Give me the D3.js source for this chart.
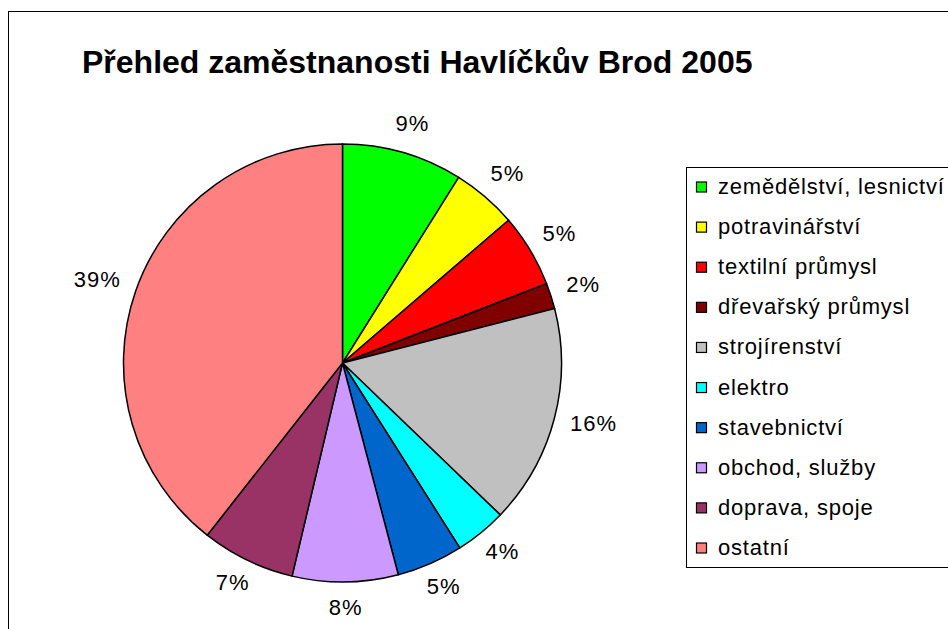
<!DOCTYPE html>
<html>
<head>
<meta charset="utf-8">
<script src="https://cdn.jsdelivr.net/npm/d3@7"></script>
<style>
  body { margin: 0; background: #fff; }
  svg { display: block; font-family: "Liberation Sans", Arial, sans-serif; }
</style>
</head>
<body>
<div class="chart"></div>
<script>
// employment shares (percent)
const categories = [
  'zemědělství, lesnictví', 'potravinářství', 'textilní průmysl', 'dřevařský průmysl',
  'strojírenství', 'elektro', 'stavebnictví', 'obchod, služby', 'doprava, spoje', 'ostatní'
];
const shares = [8.9, 4.8, 5.4, 1.9, 16.2, 3.8, 4.9, 7.8, 6.9, 39.4];
const colors = ['#00ff00', '#ffff00', '#ff0000', '#800000', '#c0c0c0',
  '#00ffff', '#0066cc', '#cc99ff', '#993366', '#ff8080'];
const title = 'Přehled zaměstnanosti Havlíčkův Brod 2005';

const width = 948;
const height = 629;
const cx = 342.5, cy = 363, radius = 219;
const labelRadius = 236;

const svg = d3.select('.chart')
  .append('svg')
  .attr('width', width)
  .attr('height', height);

// outer chart frame (runs off the right and bottom edge like the original)
svg.append('rect')
  .attr('x', 8.5).attr('y', 11.5)
  .attr('width', width + 20).attr('height', height + 20)
  .attr('fill', '#fff')
  .attr('stroke', '#000')
  .attr('stroke-width', 1);

svg.append('text')
  .attr('x', 82).attr('y', 73)
  .attr('font-size', 32)
  .attr('font-weight', 'bold')
  .text(title);

const data = categories.map((c, i) => ({ name: c, value: shares[i], color: colors[i] }));

const pie = d3.pie().sort(null).value(d => d.value).startAngle(0).endAngle(2 * Math.PI);
const arc = d3.arc().innerRadius(0).outerRadius(radius);
const arcs = pie(data);

const g = svg.append('g').attr('transform', `translate(${cx},${cy})`);

g.selectAll('path')
  .data(arcs)
  .enter()
    .append('path')
    .attr('d', arc)
    .attr('fill', d => d.data.color)
    .attr('stroke', '#000')
    .attr('stroke-width', 1.5)
    .attr('stroke-linejoin', 'round');

// percent labels outside the pie, box pushed out along mid angle
const total = d3.sum(shares);
const labels = g.selectAll('text.pct')
  .data(arcs)
  .enter()
    .append('text')
    .attr('class', 'pct')
    .attr('font-size', 22)
    .attr('letter-spacing', 1)
    .attr('text-anchor', 'middle')
    .text(d => Math.round(d.data.value / total * 100) + '%');

labels.each(function(d) {
  const a = (d.startAngle + d.endAngle) / 2;
  const w = this.getComputedTextLength();
  const h = 22;
  const x = Math.sin(a) * (labelRadius + w / 2);
  const y = -Math.cos(a) * (labelRadius + h / 2);
  d3.select(this).attr('x', x).attr('y', y + 5);
});

// legend
const legend = svg.append('g');
legend.append('rect')
  .attr('x', 686.5).attr('y', 167.5)
  .attr('width', 300).attr('height', 400)
  .attr('fill', '#fff')
  .attr('stroke', '#000')
  .attr('stroke-width', 1);

const rowY = d3.scalePoint().domain(categories).range([187, 548]);

const item = legend.selectAll('g.item')
  .data(data)
  .enter()
    .append('g')
    .attr('class', 'item')
    .attr('transform', d => `translate(0,${rowY(d.name)})`);

item.append('rect')
  .attr('x', 696.5).attr('y', -5)
  .attr('width', 10).attr('height', 10)
  .attr('fill', d => d.color)
  .attr('stroke', '#000')
  .attr('stroke-width', 1.2);

item.append('text')
  .attr('x', 718).attr('y', 7)
  .attr('font-size', 22)
  .attr('letter-spacing', 0.8)
  .text(d => d.name);
</script>
</body>
</html>
